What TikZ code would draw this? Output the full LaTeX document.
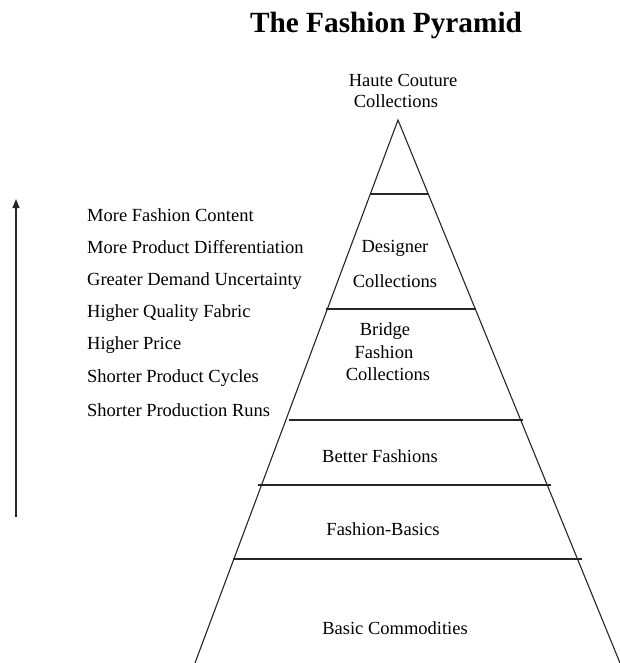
\documentclass[tikz,border=0pt]{standalone}
\usepackage{fontspec}
\setmainfont{Liberation Serif}
\usetikzlibrary{arrows.meta}
\begin{document}
\begin{tikzpicture}[x=1pt,y=-1pt,
  lbl/.style={inner sep=0pt, font=\fontsize{18.5}{21}\selectfont, text=black},
  listitem/.style={lbl, anchor=west},
  edge/.style={line width=1.1pt, draw=black!85}]
\useasboundingbox (0,0) rectangle (620,663);
% title
\node[inner sep=0pt, font=\bfseries\fontsize{29.3}{32}\selectfont] (title) at (386,25) {The Fashion Pyramid};
% pyramid corners
\coordinate (apex) at (398,120);
\coordinate (bl) at (195,663);
\coordinate (br) at (620,663);
\draw[edge] (bl) -- (apex) -- (br);
% horizontal dividers
\coordinate (d1l) at (370,194); \coordinate (d1r) at (428,194);
\coordinate (d2l) at (326,309); \coordinate (d2r) at (476,309);
\coordinate (d3l) at (289,420); \coordinate (d3r) at (523,420);
\coordinate (d4l) at (258,485); \coordinate (d4r) at (551,485);
\coordinate (d5l) at (233,559); \coordinate (d5r) at (582,559);
\draw[edge] (d1l) -- (d1r);
\draw[edge] (d2l) -- (d2r);
\draw[edge] (d3l) -- (d3r);
\draw[edge] (d4l) -- (d4r);
\draw[edge] (d5l) -- (d5r);
% level labels
\node[lbl] (hc1) at (403,80) {Haute Couture};
\node[lbl] (hc2) at (396,101) {Collections};
\node[lbl] (dc1) at (395,248) {Designer};
\node[lbl] (dc2) at (395,281) {Collections};
\node[lbl] (bf1) at (385,331) {Bridge};
\node[lbl] (bf2) at (384,352) {Fashion};
\node[lbl] (bf3) at (388,374) {Collections};
\node[lbl] (bet) at (380,456) {Better Fashions};
\node[lbl] (fb) at (383,529) {Fashion-Basics};
\node[lbl] (bc) at (395,628) {Basic Commodities};
% list
\node[listitem] (l1) at (87,215) {More Fashion Content};
\node[listitem] (l2) at (87,247) {More Product Differentiation};
\node[listitem] (l3) at (87,281) {Greater Demand Uncertainty};
\node[listitem] (l4) at (87,313) {Higher Quality Fabric};
\node[listitem] (l5) at (87,345) {Higher Price};
\node[listitem] (l6) at (87,378) {Shorter Product Cycles};
\node[listitem] (l7) at (87,410) {Shorter Production Runs};
% arrow
\coordinate (abot) at (16,517);
\coordinate (atop) at (16,199);
\draw[edge, -{Triangle[length=9pt,width=7pt]}] (abot) -- (atop);
\end{tikzpicture}
\end{document}
